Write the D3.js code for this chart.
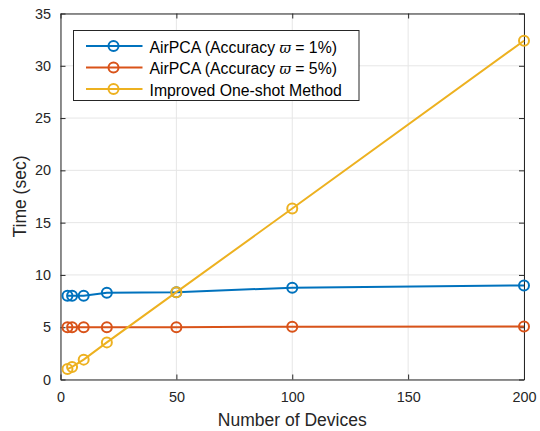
<!DOCTYPE html>
<html><head><meta charset="utf-8">
<script src="https://cdn.jsdelivr.net/npm/d3@7"></script>
<style>body{margin:0;background:#fff;} svg{display:block;font-family:"Liberation Sans",Arial,sans-serif;}</style>
</head><body>
<script>
const devices = [3, 5, 10, 20, 50, 100, 200];
const airpca1 = [8.0, 8.0, 8.0, 8.3, 8.35, 8.78, 9.0];
const airpca5 = [5.0, 5.0, 5.0, 5.0, 5.0, 5.05, 5.07];
const oneShot = [1.0, 1.2, 1.9, 3.55, 8.35, 16.35, 32.4];
const xTicks = [0, 50, 100, 150, 200];
const yTicks = [0, 5, 10, 15, 20, 25, 30, 35];
const seriesNames = ["AirPCA (Accuracy ", "AirPCA (Accuracy ", "Improved One-shot Method"];
const seriesSuffix = [" = 1%)", " = 5%)", ""];
const colors = ["#0072BD", "#D95319", "#EDB120"];
const FONT = "'Liberation Sans', Arial, sans-serif";

const W = 540, H = 431;
const m = {l: 60.5, r: 16, t: 13.5, b: 51.5};
const svg = d3.select("body").append("svg").attr("width", W).attr("height", H);
const x = d3.scaleLinear().domain([0, 200]).range([m.l, W - m.r]);
const y = d3.scaleLinear().domain([0, 35]).range([H - m.b, m.t]);

// grid
svg.append("g").selectAll("line").data(xTicks).join("line")
  .attr("x1", d => x(d)).attr("x2", d => x(d)).attr("y1", y(0)).attr("y2", y(35))
  .attr("stroke", "#e6e6e6").attr("stroke-width", 1);
svg.append("g").selectAll("line").data(yTicks).join("line")
  .attr("y1", d => y(d)).attr("y2", d => y(d)).attr("x1", x(0)).attr("x2", x(200))
  .attr("stroke", "#e6e6e6").attr("stroke-width", 1);

// axes
svg.append("g").attr("transform", `translate(0,${y(0)})`)
  .call(d3.axisBottom(x).tickValues(xTicks).tickSizeInner(-5).tickSizeOuter(0).tickPadding(12));
svg.append("g").attr("transform", `translate(${x(0)},0)`)
  .call(d3.axisLeft(y).tickValues(yTicks).tickSizeInner(-5).tickSizeOuter(0).tickPadding(9.5));
svg.append("g").attr("transform", `translate(0,${y(35)})`)
  .call(d3.axisTop(x).tickValues(xTicks).tickSizeInner(-5).tickSizeOuter(0).tickFormat(""));
svg.append("g").attr("transform", `translate(${x(200)},0)`)
  .call(d3.axisRight(y).tickValues(yTicks).tickSizeInner(-5).tickSizeOuter(0).tickFormat(""));
svg.selectAll(".domain").attr("stroke", "#262626");
svg.selectAll(".tick line").attr("stroke", "#262626");
svg.selectAll(".tick text").attr("font-size", 14.4).attr("fill", "#262626").attr("font-family", FONT);

// labels
svg.append("text").attr("x", (x(0) + x(200)) / 2).attr("y", 425.5)
  .attr("text-anchor", "middle").attr("font-size", 17.5).attr("fill", "#262626").text("Number of Devices");
svg.append("text").attr("transform", `translate(25.5,${(y(0) + y(35)) / 2}) rotate(-90)`)
  .attr("text-anchor", "middle").attr("font-size", 17.5).attr("fill", "#262626").text("Time (sec)");

// series
const allSeries = [airpca1, airpca5, oneShot];
const line = d3.line().x((d, i) => x(devices[i])).y(d => y(d));
allSeries.forEach((s, k) => {
  const g = svg.append("g");
  g.append("path").datum(s).attr("d", line).attr("fill", "none")
    .attr("stroke", colors[k]).attr("stroke-width", 2);
  g.selectAll("circle").data(s).join("circle")
    .attr("cx", (d, i) => x(devices[i])).attr("cy", d => y(d)).attr("r", 5)
    .attr("fill", "none").attr("stroke", colors[k]).attr("stroke-width", 2);
});

// legend
const lg = svg.append("g");
lg.append("rect").attr("x", 73.5).attr("y", 30.5).attr("width", 285.5).attr("height", 70)
  .attr("fill", "#fff").attr("stroke", "#262626").attr("stroke-width", 1);
seriesNames.forEach((nm, k) => {
  const yy = 46 + k * 21.5;
  lg.append("line").attr("x1", 86).attr("x2", 142.5).attr("y1", yy).attr("y2", yy)
    .attr("stroke", colors[k]).attr("stroke-width", 2);
  lg.append("circle").attr("cx", 113.5).attr("cy", yy).attr("r", 5)
    .attr("fill", "none").attr("stroke", colors[k]).attr("stroke-width", 2);
  const t = lg.append("text").attr("x", 149.5).attr("y", yy + 6.5).attr("font-size", 15.8).attr("fill", "#000");
  t.append("tspan").text(nm);
  if (k < 2) {
    t.append("tspan").attr("font-style", "italic").attr("font-family", "'DejaVu Serif', serif").attr("font-size", 14).text("\u03D6");
    t.append("tspan").text(seriesSuffix[k]);
  }
});
</script>
</body></html>
